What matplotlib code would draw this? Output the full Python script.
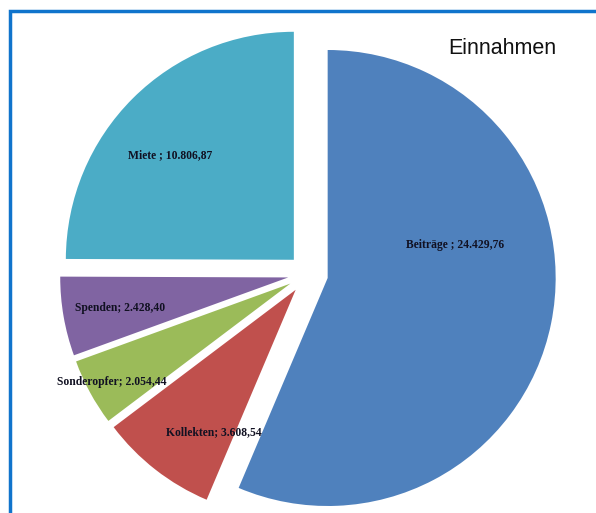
import matplotlib.pyplot as plt
from matplotlib.patches import Rectangle

# Einnahmen
categories = ['Beiträge', 'Kollekten', 'Sonderopfer', 'Spenden', 'Miete']
values = [24429.76, 3608.54, 2054.44, 2428.40, 10806.87]
value_labels = ['24.429,76', '3.608,54', '2.054,44', '2.428,40', '10.806,87']
seps = [' ; ', '; ', '; ', '; ', ' ; ']
colors = ['#4f81bd', '#c0504d', '#9bbb59', '#8064a2', '#4bacc6']

W, H = 596, 513
cx, cy, R = 308, 274, 228   # pie centre and radius in pixels

fig = plt.figure(figsize=(W / 100, H / 100), dpi=100)
ax = fig.add_axes([0, 0, 1, 1])
ax.axis('off')

wedges, _ = ax.pie(values, colors=colors, startangle=90, counterclock=False,
                   explode=[0.088] * len(values), radius=1,
                   wedgeprops=dict(linewidth=0))
ax.set_xlim(-cx / R, (W - cx) / R)
ax.set_ylim((cy - H) / R, cy / R)

# label centres in pixels
label_px = [(455, 245), (214, 432), (112, 382), (120, 308), (170, 155)]
for cat, v, s, (px, py) in zip(categories, value_labels, seps, label_px):
    ax.text((px - cx) / R, (cy - py) / R, cat + s + v, ha='center', va='center',
            fontsize=8.4, fontweight='bold', family='Liberation Serif', color='#111122')

fig.text(502 / W, 1 - 48 / H, 'Einnahmen', ha='center', va='center',
         fontsize=15.5, family='Liberation Sans', color='#111111')

# blue frame
fig.patches.append(Rectangle((10 / W, -0.05), 1.1, 1 - 11 / H + 0.05,
                             transform=fig.transFigure, fill=False,
                             edgecolor='#1074cc', linewidth=2.5))

fig.savefig('out.png', dpi=100)
